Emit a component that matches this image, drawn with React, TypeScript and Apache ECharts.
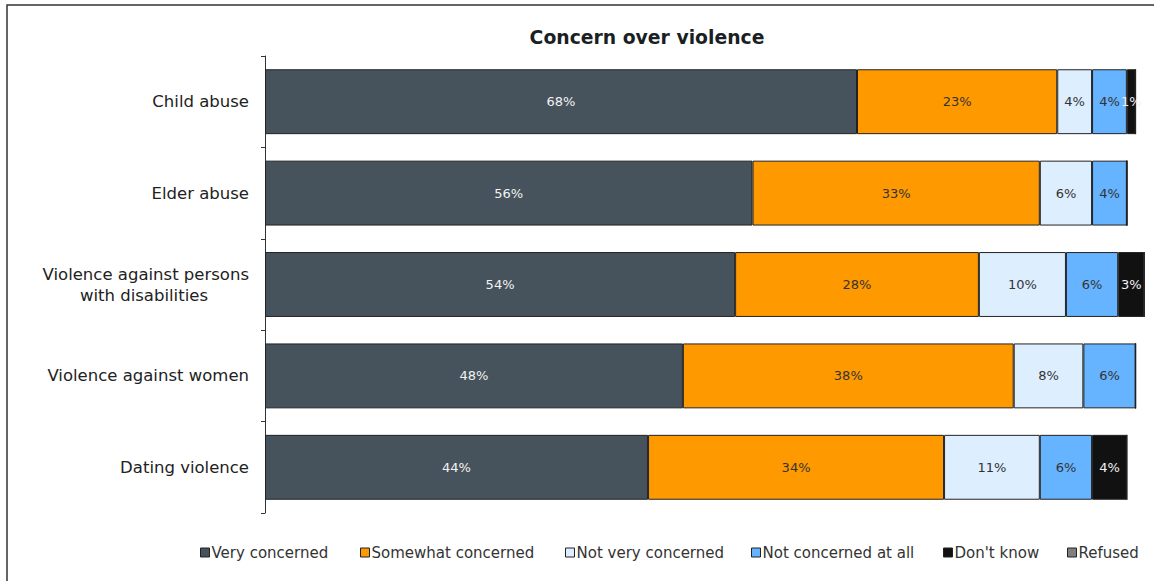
import React, { useEffect, useRef } from "react";
import * as echarts from "echarts";

const categories = [
  "Child abuse",
  "Elder abuse",
  "Violence against persons\nwith disabilities",
  "Violence against women",
  "Dating violence",
];
const seriesNames = [
  "Very concerned",
  "Somewhat concerned",
  "Not very concerned",
  "Not concerned at all",
  "Don't know",
  "Refused",
];
const veryConcerned = [68, 56, 54, 48, 44];
const somewhatConcerned = [23, 33, 28, 38, 34];
const notVeryConcerned = [4, 6, 10, 8, 11];
const notConcernedAtAll = [4, 4, 6, 6, 6];
const dontKnow = [1, 0, 3, 0, 4];
const refused = [0, 0, 0, 0, 0];

const colors = ["#46535C", "#FF9900", "#DDEEFF", "#66B3FF", "#111111", "#808080"];
const labelColors = ["#f2f2f2", "#333333", "#333333", "#333333", "#f2f2f2", "#f2f2f2"];
const legendLefts = [200, 360, 565, 751, 943, 1067];
const FONT = "DejaVu Sans";

export default function App() {
  const ref = useRef<HTMLDivElement>(null);
  useEffect(() => {
    if (!ref.current) return;
    const chart = echarts.init(ref.current, undefined, { renderer: "svg" });
    const data = [veryConcerned, somewhatConcerned, notVeryConcerned, notConcernedAtAll, dontKnow, refused];
    const option: any = {
      animation: false,
      backgroundColor: "#ffffff",
      title: {
        text: "Concern over violence",
        left: 642,
        textAlign: "center",
        top: 23,
        textStyle: { fontFamily: FONT, fontSize: 18.8, fontWeight: "bold", color: "#1a1f24" },
      },
      legend: seriesNames.map((n, i) => ({
        data: [n],
        left: legendLefts[i],
        top: 545,
        icon: "rect",
        itemWidth: 9,
        itemHeight: 9,
        itemGap: 0,
        padding: 0,
        selectedMode: false,
        itemStyle: { borderColor: "#222", borderWidth: 1 },
        textStyle: { fontFamily: FONT, fontSize: 15, color: "#333", padding: [0, 0, 0, -3] },
      })),
      grid: { left: 265, top: 56, height: 457, width: 888, containLabel: false },
      xAxis: { type: "value", min: 0, max: 102, show: false },
      yAxis: {
        type: "category",
        data: categories,
        inverse: true,
        axisLine: { show: true, lineStyle: { color: "#333", width: 1 } },
        axisTick: { show: true, length: 4, lineStyle: { color: "#333" } },
        axisLabel: {
          margin: 16,
          fontFamily: FONT,
          fontSize: 16.5,
          color: "#222",
          formatter: (v: string) => {
            if (v.indexOf("\n") >= 0) {
              const parts = v.split("\n");
              return `{a|${parts[0]}}\n{b|${parts[1]}}`;
            }
            return v;
          },
          rich: {
            a: { fontFamily: FONT, fontSize: 16.5, color: "#222", lineHeight: 21 },
            b: { fontFamily: FONT, fontSize: 16.5, color: "#222", lineHeight: 21, padding: [0, 41, 0, 0] },
          },
        },
      },
      series: seriesNames.map((n, i) => ({
        name: n,
        type: "bar",
        stack: "total",
        barCategoryGap: "29%",
        data: data[i],
        itemStyle: { color: colors[i], borderColor: "#222", borderWidth: 1 },
        label: {
          show: true,
          position: "inside",
          fontFamily: FONT,
          fontSize: 13,
          color: labelColors[i],
          formatter: (p: any) => (p.value > 0 ? `${p.value}%` : ""),
        },
      })),
      graphic: [
        {
          type: "rect",
          shape: { x: 7, y: 5, width: 1170, height: 600 },
          style: { fill: "none", stroke: "#333", lineWidth: 1.5 },
          silent: true,
        },
      ],
    };
    chart.setOption(option);
    return () => chart.dispose();
  }, []);
  return (
    <div
      ref={ref}
      style={{ position: "fixed", left: 0, top: 0, width: 1154, height: 581 }}
    />
  );
}
